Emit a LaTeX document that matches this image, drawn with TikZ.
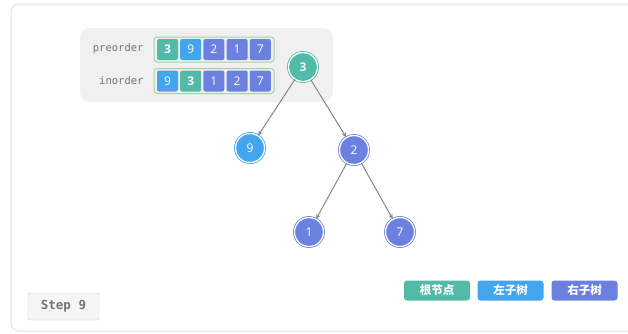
\documentclass[tikz,border=0pt]{standalone}
\usepackage{fontspec}
\setmainfont{Open Sans}
\setmonofont{DejaVu Sans Mono}
\newfontfamily\cjk{Noto Sans CJK SC}
\usepackage{tikz}
\usetikzlibrary{arrows.meta,positioning}

\definecolor{rootc}{RGB}{82,186,168}
\definecolor{leftc}{RGB}{66,165,238}
\definecolor{rightc}{RGB}{108,128,224}
\definecolor{panelc}{RGB}{240,240,240}
\definecolor{framec}{RGB}{225,225,225}
\definecolor{arrc}{RGB}{160,212,160}
\definecolor{edgec}{RGB}{135,135,135}
\definecolor{labc}{RGB}{115,115,115}

\begin{document}
\begin{tikzpicture}[
  x=1pt, y=-1pt,
  >={Stealth[length=5pt,width=4.5pt]},
  every node/.style={font=\small},
  cell/.style={rectangle, rounded corners=2pt, minimum width=21pt, minimum height=21pt, inner sep=0pt, text=white, font=\fontsize{12}{12}\selectfont},
  arr/.style={rectangle, rounded corners=3pt, draw=arrc, line width=1pt, minimum width=120pt, minimum height=25pt},
  tnode/.style={circle, minimum size=29pt, inner sep=0pt, line width=0.8pt, double=white, double distance=1.3pt, text=white, font=\fontsize{12}{12}\selectfont},
  bold/.style={font=\fontsize{12}{12}\selectfont\bfseries},
  lab/.style={font=\fontsize{10.5}{10.5}\selectfont\ttfamily, text=labc, anchor=east},
  legend/.style={rectangle, rounded corners=3pt, minimum width=66pt, minimum height=20pt, inner sep=0pt, text=white, font=\fontsize{11.5}{11.5}\selectfont\cjk\bfseries},
  edge/.style={->, draw=edgec, line width=1pt}
]
  \useasboundingbox (0,0) rectangle (628,333);
  % frame and panel
  \draw[framec, line width=1pt, rounded corners=8pt] (11,4) rectangle (660,331);
  \node[rectangle, rounded corners=10pt, fill=panelc, minimum width=253pt, minimum height=74pt, inner sep=0pt] (panel) at (206.5,65) {};

  % arrays
  \node[lab] (prelab) at (147,48.5) {preorder};
  \node[lab] (inlab) at (147,80.5) {inorder};
  \node[arr] (prearr) at (214,49.5) {};
  \node[arr] (inarr) at (214,81) {};
  \foreach \v/\c/\s [count=\i] in {3/rootc/bold,9/leftc/,2/rightc/,1/rightc/,7/rightc/}
    \node[cell, fill=\c, \s] (pre\i) at ({167.5+23.2*(\i-1)},49.5) {\v};
  \foreach \v/\c/\s [count=\i] in {9/leftc/,3/rootc/bold,1/rightc/,2/rightc/,7/rightc/}
    \node[cell, fill=\c, \s] (in\i) at ({167.5+23.2*(\i-1)},81) {\v};

  % tree
  \node[tnode, bold, fill=rootc, draw=rootc] (n3) at (303,67) {3};
  \node[tnode, fill=leftc, draw=leftc] (n9) at (250,148) {9};
  \node[tnode, fill=rightc, draw=rightc] (n2) at (354,150) {2};
  \node[tnode, fill=rightc, draw=rightc] (n1) at (309,232) {1};
  \node[tnode, fill=rightc, draw=rightc] (n7) at (400,232) {7};

  \draw[edge] (n3) -- (n9);
  \draw[edge] (n3) -- (n2);
  \draw[edge] (n2) -- (n1);
  \draw[edge] (n2) -- (n7);

  % legend
  \node[legend, fill=rootc] (lroot) at (437,290.5) {根节点};
  \node[legend, fill=leftc] (lleft) at (510.5,290.5) {左子树};
  \node[legend, fill=rightc] (lright) at (584.5,290.5) {右子树};

  % step
  \node[rectangle, rounded corners=2pt, draw=black!20, fill=black!4, minimum width=71pt, minimum height=27pt, inner sep=0pt, text=labc, font=\fontsize{12.5}{12.5}\selectfont\ttfamily\bfseries] (step) at (63.5,306.5) {Step 9};
\end{tikzpicture}
\end{document}
